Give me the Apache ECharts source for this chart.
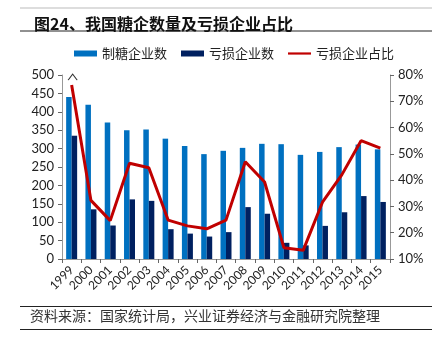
<!DOCTYPE html>
<html><head><meta charset="utf-8">
<script src="https://cdn.jsdelivr.net/npm/echarts@6/dist/echarts.min.js"></script>
<style>html,body{margin:0;padding:0;background:#fff}#c{width:443px;height:343px}</style>
</head><body><div id="c"></div>
<script>
var years = ['1999','2000','2001','2002','2003','2004','2005','2006','2007','2008','2009','2010','2011','2012','2013','2014','2015'];
var sugarFirms = [440,419,371,350,352,327,307,285,294,302,313,312,283,291,304,311,298];
var lossFirms = [335,135,91,162,158,81,69,61,73,141,123,44,37,90,127,171,155];
var lossRatio = [76.2,32.3,24.6,46.4,44.7,24.8,22.6,21.5,24.8,47,39.3,14.3,13.3,31.6,42,55,52.2];
var leftTicks = {min:0,max:500,interval:50};
var rightTicks = {min:10,max:80,interval:10};

var chart = echarts.init(document.getElementById('c'), null, {renderer:'canvas'});
var fontLat = 'Lato, "Noto Sans CJK SC", sans-serif';
var fontCJK = '"Noto Sans CJK SC", sans-serif';
chart.setOption({
  animation:false,
  textStyle:{fontFamily:fontLat},
  title:{text:'图24、我国糖企数量及亏损企业占比', left:29, top:11,
    textStyle:{fontFamily:fontCJK, fontSize:16, fontWeight:'bold', color:'#111'}},
  graphic:[
    {type:'line', shape:{x1:20,y1:8,x2:432,y2:8}, style:{stroke:'#bbb',lineWidth:1}},
    {type:'line', shape:{x1:20,y1:31,x2:432,y2:31}, style:{stroke:'#222',lineWidth:1}},
    {type:'line', shape:{x1:20,y1:306.5,x2:432,y2:306.5}, style:{stroke:'#222',lineWidth:1}},
    {type:'line', shape:{x1:20,y1:329.5,x2:432,y2:329.5}, style:{stroke:'#222',lineWidth:1}},
    {type:'text', left:30, top:309, style:{text:'资料来源：国家统计局，兴业证券经济与金融研究院整理', font:'14px "Noto Sans CJK SC", sans-serif', fill:'#333'}}
  ],
  legend:{top:42, left:69, itemWidth:23, itemHeight:6, itemGap:14,
    textStyle:{fontFamily:fontCJK, fontSize:13, color:'#222'},
    data:[{name:'制糖企业数', icon:'rect'},{name:'亏损企业数', icon:'rect'},
          {name:'亏损企业占比', icon:'path://M0,0 H23 V2.2 H0 Z'}]},
  grid:{left:62, right:53, top:75, bottom:84},
  xAxis:{type:'category', data:years, boundaryGap:true,
    axisLine:{lineStyle:{color:'#999'}},
    axisTick:{show:true, alignWithLabel:false, length:4, lineStyle:{color:'#666'}},
    axisLabel:{rotate:45, fontSize:12, color:'#222', margin:9, interval:0}},
  yAxis:[
    {type:'value', min:leftTicks.min, max:leftTicks.max, interval:leftTicks.interval,
      splitLine:{show:false},
      axisLine:{show:true, lineStyle:{color:'#999'}},
      axisTick:{show:true, length:4, lineStyle:{color:'#666'}},
      axisLabel:{fontSize:13, color:'#222', margin:8}},
    {type:'value', min:rightTicks.min, max:rightTicks.max, interval:rightTicks.interval,
      splitLine:{show:false},
      axisLine:{show:true, lineStyle:{color:'#999'}},
      axisTick:{show:true, length:4, lineStyle:{color:'#666'}},
      axisLabel:{fontSize:13, color:'#222', margin:8, formatter:'{value}%'}}
  ],
  series:[
    {name:'制糖企业数', type:'bar', data:sugarFirms, barWidth:5.5, barGap:'0%',
      itemStyle:{color:'#0070C0'}},
    {name:'亏损企业数', type:'bar', data:lossFirms, barWidth:5.5, barGap:'0%',
      itemStyle:{color:'#002060'}},
    {name:'亏损企业占比', type:'line', yAxisIndex:1, data:lossRatio, symbol:'none',
      lineStyle:{color:'#C00000', width:3}, itemStyle:{color:'#C00000'},
      markPoint:{silent:true, symbol:'path://M0,10 L5,0 L10,10', symbolSize:[9,6], symbolOffset:[1,0],
        itemStyle:{color:'none', borderColor:'#333', borderWidth:1}, label:{show:false},
        data:[{coord:['1999',79.2]}]}}
  ]
});
</script></body></html>
